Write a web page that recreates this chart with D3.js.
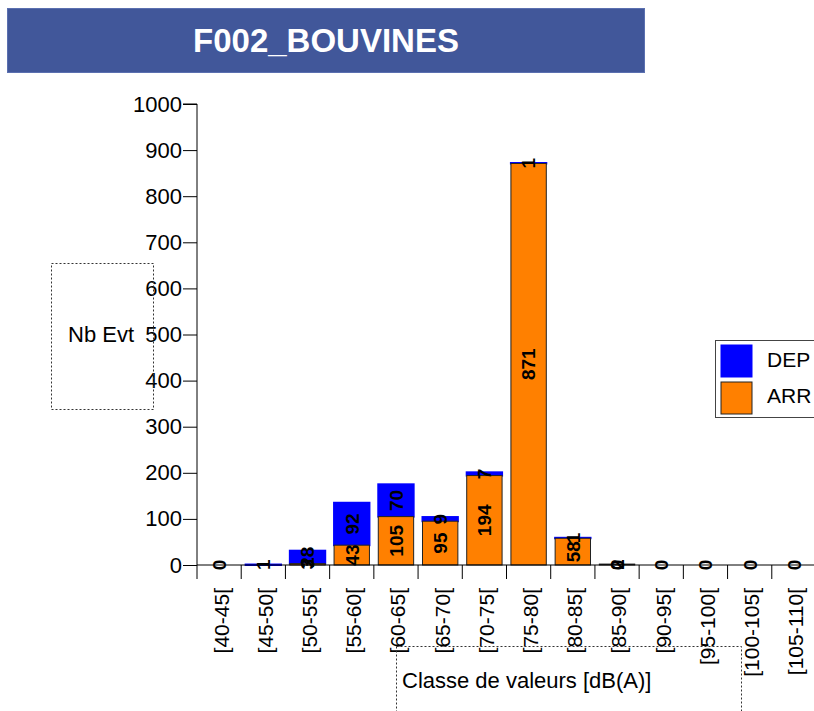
<html>
<head>
<script src="https://d3js.org/d3.v7.min.js"></script>
<style>
body { margin: 0; background: #fff; }
text { font-family: Arial, 'Liberation Sans', sans-serif; }
</style>
</head>
<body>
<svg width="814" height="711"></svg>
<script>
// noise classes and event counts (ARR = arrivals, DEP = departures)
var categories = ["[40-45[", "[45-50[", "[50-55[", "[55-60[", "[60-65[", "[65-70[", "[70-75[",
  "[75-80[", "[80-85[", "[85-90[", "[90-95[", "[95-100[", "[100-105[", "[105-110["];
var arrValues = [0, 0, 3, 43, 105, 95, 194, 871, 58, 2, 0, 0, 0, 0];
var depValues = [0, 1, 28, 92, 70, 9, 7, 1, 1, 0, 0, 0, 0, 0];
var yTicks = [0, 100, 200, 300, 400, 500, 600, 700, 800, 900, 1000];
var seriesNames = ["DEP", "ARR"];

var svg = d3.select("svg");

var x = d3.scaleBand().domain(categories).range([197, 816]).paddingInner(0.2).paddingOuter(0.1);
var y = d3.scaleLinear().domain([0, 1000]).range([565, 104]);
var step = x.step();

// title banner
svg.append("rect").attr("x", 7.5).attr("y", 8.5).attr("width", 637).attr("height", 64)
  .style("fill", "#41579a").style("stroke", "#5b70b0");
svg.append("text").attr("x", 326).attr("y", 52).attr("text-anchor", "middle")
  .style("fill", "#fff").style("font-size", "33px").style("font-weight", "bold")
  .text("F002_BOUVINES");

// y axis
var yAxis = d3.axisLeft(y).tickValues(yTicks).tickFormat(d3.format("d")).tickSize(14).tickPadding(1);
var gy = svg.append("g").attr("transform", "translate(197,0)").call(yAxis);
gy.select(".domain").attr("d", "M-14," + y(1000) + "H0V" + y(0));
gy.selectAll("text").style("font-size", "22px").style("fill", "#000");
gy.selectAll("line").style("stroke", "#000");

// stacked bars: DEP on top of ARR
var rows = categories.map(function (c, i) {
  return { cat: c, arr: arrValues[i], dep: depValues[i] };
});

svg.selectAll("rect.dep").data(rows).enter().append("rect").attr("class", "dep")
  .filter(function (d) { return d.dep > 0; })
  .attr("x", function (d) { return x(d.cat); })
  .attr("width", x.bandwidth())
  .attr("y", function (d) { return y(d.arr + d.dep); })
  .attr("height", function (d) { return y(d.arr) - y(d.arr + d.dep); })
  .style("fill", "#0000ff").style("stroke", "#0000ff").style("stroke-width", 2);

svg.selectAll("rect.arr").data(rows).enter().append("rect").attr("class", "arr")
  .filter(function (d) { return d.arr > 0; })
  .attr("x", function (d) { return x(d.cat); })
  .attr("width", x.bandwidth())
  .attr("y", function (d) { return y(d.arr); })
  .attr("height", function (d) { return y(0) - y(d.arr); })
  .style("fill", "#ff8000").style("stroke", "#222").style("stroke-width", 1);

// x axis line and ticks between classes
svg.append("line").attr("x1", 197).attr("x2", 814).attr("y1", y(0)).attr("y2", y(0)).style("stroke", "#000");
svg.selectAll("line.xtick").data(categories).enter().append("line").attr("class", "xtick")
  .attr("x1", function (d) { return x(d) - (step - x.bandwidth()) / 2; })
  .attr("x2", function (d) { return x(d) - (step - x.bandwidth()) / 2; })
  .attr("y1", y(0)).attr("y2", 579)
  .style("stroke", "#000");

svg.selectAll("text.xlab").data(categories).enter().append("text").attr("class", "xlab")
  .attr("transform", function (d) { return "translate(" + (x(d) + x.bandwidth() / 2) + ",588) rotate(-90)"; })
  .attr("dy", "0.45em").attr("text-anchor", "end")
  .style("font-size", "21px")
  .text(function (d) { return d; });

// value labels
function addLabels(cls, getBase, getVal) {
  svg.selectAll("text." + cls).data(rows).enter().append("text").attr("class", cls)
    .filter(function (d) { return getVal(d) > 0; })
    .attr("transform", function (d) {
      var cy = y(getBase(d) + getVal(d) / 2);
      return "translate(" + (x(d.cat) + x.bandwidth() / 2) + "," + cy + ") rotate(-90)";
    })
    .attr("dy", "0.36em").attr("text-anchor", "middle")
    .style("font-size", "19px").style("font-weight", "bold")
    .text(function (d) { return getVal(d); });
}
addLabels("larr", function () { return 0; }, function (d) { return d.arr; });
addLabels("ldep", function (d) { return d.arr; }, function (d) { return d.dep; });
svg.selectAll("text.lzero").data(rows).enter().append("text").attr("class", "lzero")
  .filter(function (d) { return d.arr + d.dep === 0 || (d.dep === 0 && d.arr < 5); })
  .attr("transform", function (d) { return "translate(" + (x(d.cat) + x.bandwidth() / 2) + "," + y(0) + ") rotate(-90)"; })
  .attr("dy", "0.36em").attr("text-anchor", "middle")
  .style("font-size", "19px").style("font-weight", "bold")
  .text("0");

// axis titles in dotted boxes
svg.append("rect").attr("x", 51.5).attr("y", 263.5).attr("width", 102).attr("height", 146)
  .style("fill", "none").style("stroke", "#333").style("stroke-dasharray", "2,2");
svg.append("text").attr("x", 68).attr("y", 342).style("font-size", "22px").text("Nb  Evt");

svg.append("rect").attr("x", 396.5).attr("y", 646.5).attr("width", 345).attr("height", 90)
  .style("fill", "none").style("stroke", "#333").style("stroke-dasharray", "2,2");
svg.append("text").attr("x", 402).attr("y", 688).style("font-size", "22px").text("Classe de valeurs [dB(A)]");

// legend
var legend = svg.append("g");
legend.append("rect").attr("x", 715.5).attr("y", 340.5).attr("width", 120).attr("height", 77)
  .style("fill", "#fff").style("stroke", "#444");
var legendColors = { DEP: "#0000ff", ARR: "#ff8000" };
seriesNames.forEach(function (s, i) {
  legend.append("rect").attr("x", 721).attr("y", 345 + i * 37).attr("width", 31).attr("height", 32)
    .style("fill", legendColors[s]).style("stroke", s === "ARR" ? "#222" : legendColors[s]);
  legend.append("text").attr("x", 767).attr("y", 367 + i * 36).style("font-size", "21px").text(s);
});
</script>
</body>
</html>
